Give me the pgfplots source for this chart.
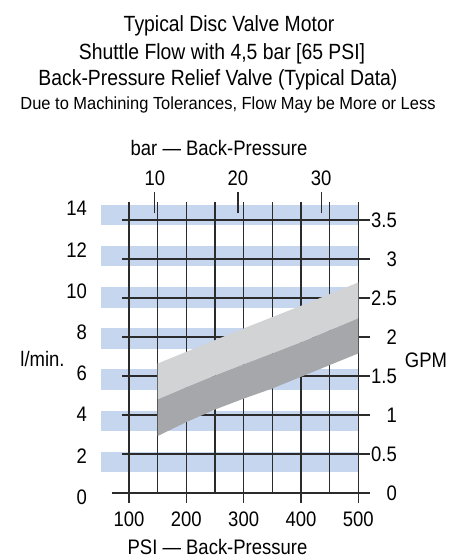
\documentclass[border=0pt]{standalone}
\usepackage{fontspec}
\setmainfont{Liberation Sans}[FakeStretch=0.88]
\newfontfamily\subfont{Liberation Sans}[FakeStretch=0.94]
\usepackage{pgfplots}
\pgfplotsset{compat=1.18}
\definecolor{bandblue}{HTML}{C6D6EE}
\definecolor{lightg}{HTML}{D2D3D5}
\definecolor{darkg}{HTML}{A6A7AA}
\definecolor{gridc}{HTML}{2B2B2B}

\begin{document}
\begin{tikzpicture}
\pgfplotsset{
  common/.style={
    x=0.5733bp, y=78bp,
    xmin=51.2, xmax=520.4, ymin=-0.3, ymax=3.735,
    axis line style={draw=none}, tick style={draw=none},
    major tick length=0pt, clip=false,
    /pgf/number format/assume math mode=true,
    every tick label/.append style={font=\fontsize{21bp}{25bp}\selectfont, inner sep=0pt},
  },
  gl/.style={draw=gridc, line width=1.1bp, mark=none},
  band/.style={fill=bandblue, draw=none, mark=none},
}
\begin{axis}[common,
  axis x line*=bottom, axis y line*=left,
  xtick={100,200,300,400,500}, xticklabels={100,200,300,400,500},
  ytick={0,0.52834,1.05669,1.58503,2.11338,2.64172,3.17006,3.69841},
  yticklabels={0,2,4,6,8,10,12,14},
  xticklabel style={anchor=center, yshift=-2.6bp},
  yticklabel style={anchor=east, xshift=-14bp, yshift=-4bp},
]
% blue bands (1-2, 3-4, ..., 13-14 l/min)
\addplot[band] coordinates {(51.2,0.26417) (500,0.26417) (500,0.52834) (51.2,0.52834)} -- cycle;
\addplot[band] coordinates {(51.2,0.79252) (500,0.79252) (500,1.05669) (51.2,1.05669)} -- cycle;
\addplot[band] coordinates {(51.2,1.32086) (500,1.32086) (500,1.58503) (51.2,1.58503)} -- cycle;
\addplot[band] coordinates {(51.2,1.84920) (500,1.84920) (500,2.11338) (51.2,2.11338)} -- cycle;
\addplot[band] coordinates {(51.2,2.37755) (500,2.37755) (500,2.64172) (51.2,2.64172)} -- cycle;
\addplot[band] coordinates {(51.2,2.90589) (500,2.90589) (500,3.17006) (51.2,3.17006)} -- cycle;
\addplot[band] coordinates {(51.2,3.43423) (500,3.43423) (500,3.69841) (51.2,3.69841)} -- cycle;
% grid
\addplot[gl] coordinates {(88.3,0.5) (520.4,0.5)};
\addplot[gl] coordinates {(88.3,1) (520.4,1)};
\addplot[gl] coordinates {(88.3,1.5) (520.4,1.5)};
\addplot[gl] coordinates {(88.3,2) (520.4,2)};
\addplot[gl] coordinates {(88.3,2.5) (520.4,2.5)};
\addplot[gl] coordinates {(88.3,3) (520.4,3)};
\addplot[gl] coordinates {(88.3,3.5) (520.4,3.5)};
\addplot[gl] coordinates {(100,-0.125) (100,3.735)};
\addplot[gl] coordinates {(150,0) (150,3.735)};
\addplot[gl] coordinates {(200,-0.125) (200,3.735)};
\addplot[gl] coordinates {(250,0) (250,3.735)};
\addplot[gl] coordinates {(300,-0.125) (300,3.735)};
\addplot[gl] coordinates {(350,0) (350,3.735)};
\addplot[gl] coordinates {(400,-0.125) (400,3.735)};
\addplot[gl] coordinates {(450,0) (450,3.735)};
\addplot[gl] coordinates {(500,-0.125) (500,3.735)};
% bar ticks
\addplot[gl] coordinates {(145.04,3.586) (145.04,3.863)};
\addplot[gl] coordinates {(290.08,3.586) (290.08,3.863)};
\addplot[gl] coordinates {(435.11,3.586) (435.11,3.863)};
% flow range (GPM): upper edge, middle edge, lower edge
\addplot[fill=lightg, draw=none, mark=none] coordinates {
 (150,1.66) (200,1.81) (250,1.96) (300,2.11) (350,2.255) (400,2.40) (450,2.55) (500,2.70)
 (500,2.24) (450,2.085) (400,1.93) (350,1.79) (300,1.65) (250,1.505) (200,1.355) (150,1.20)} -- cycle;
\addplot[fill=darkg, draw=none, mark=none] coordinates {
 (150,1.20) (200,1.355) (250,1.505) (300,1.65) (350,1.79) (400,1.93) (450,2.085) (500,2.24)
 (500,1.79) (450,1.64) (400,1.49) (350,1.34) (300,1.21) (250,1.07) (200,0.91) (150,0.73)} -- cycle;
\coordinate (O) at (axis cs:100,0);
\end{axis}
\begin{axis}[common,
  axis x line*=top, axis y line*=right,
  xtick={145.04,290.08,435.11}, xticklabels={10,20,30},
  ytick={0,0.5,1,1.5,2,2.5,3,3.5},
  yticklabels={0,0.5,1,1.5,2,2.5,3,3.5},
  xticklabel style={anchor=center, yshift=23.4bp},
  yticklabel style={anchor=east, xshift=27bp},
]
% zero line of the grid
\addplot[draw=gridc, line width=1.3bp, mark=none] coordinates {(69.8,0) (520.4,0)};
\end{axis}
\begin{scope}[shift={(O)}, xshift=-129bp, yshift=493bp, x=1bp, y=-1bp]
\node[anchor=base] at (229,31.5) {\fontsize{22bp}{26bp}\selectfont Typical Disc Valve Motor};
\node[anchor=base] at (222,59.5) {\fontsize{22bp}{26bp}\selectfont Shuttle Flow with 4,5 bar [65 PSI]};
\node[anchor=base] at (218,86) {\fontsize{22bp}{26bp}\selectfont Back-Pressure Relief Valve (Typical Data)};
\node[anchor=base] at (228,109.5) {\subfont\fontsize{17.5bp}{21bp}\selectfont Due to Machining Tolerances, Flow May be More or Less};
\node[anchor=base] at (219,156) {\fontsize{21bp}{25bp}\selectfont bar — Back-Pressure};
\node[anchor=base] at (217.5,555) {\fontsize{21bp}{25bp}\selectfont PSI — Back-Pressure};
\node[anchor=base] at (42.5,367) {\fontsize{21bp}{25bp}\selectfont l/min.};
\node[anchor=base] at (426,368) {\fontsize{21bp}{25bp}\selectfont GPM};
\pgfresetboundingbox
\path (0,0) rectangle (458,560);
\end{scope}
\end{tikzpicture}
\end{document}
